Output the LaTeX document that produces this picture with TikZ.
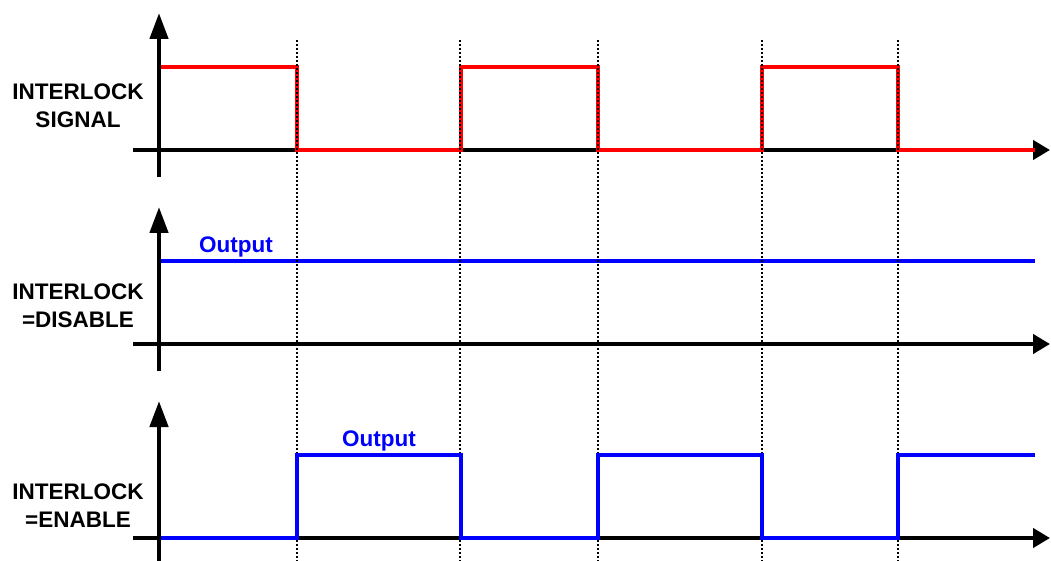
\documentclass[tikz,border=0pt]{standalone}
\usepackage{fontspec}
\setmainfont{Liberation Sans}
\usetikzlibrary{arrows.meta}

\begin{document}
\begin{tikzpicture}[
  x=1pt,y=-1pt,
  font=\bfseries\fontsize{22.5}{28}\selectfont,
  axis/.style={black, line width=4.5pt, -{Triangle[length=17pt,width=19pt]}},
  vaxis/.style={black, line width=4.5pt, -{Triangle[length=26pt,width=18pt]}},
  sigline/.style={red, line width=4.5pt},
  outline/.style={blue, line width=4.5pt},
  guide/.style={black, line width=1.2pt, dash pattern=on 2pt off 2pt},
  lbl/.style={align=center, inner sep=0pt},
  outlbl/.style={blue, anchor=base, inner sep=0pt}
]
\useasboundingbox (0,0) rectangle (1051,561);

% ----------------------------- Axes -----------------------------
\foreach \yb in {150,344,538}
  {
    \draw[axis] (133,\yb) -- (1050,\yb);
    \draw[vaxis] (159,\yb+27) -- (159,\yb-137);
  }

% --------------------- Panel 1: interlock signal ---------------------
\begin{scope}[shift={(0,150)}]
  \draw[sigline]
    (161,-83) -- (297,-83) -- (297,0) -- (461,0) -- (461,-83) -- (598,-83)
    -- (598,0) -- (762,0) -- (762,-83) -- (898,-83) -- (898,0) -- (1035,0);
\end{scope}
\node[lbl] (lblsig) at (78,106) {INTERLOCK\\SIGNAL};

% --------------------- Panel 2: interlock disabled ---------------------
\begin{scope}[shift={(0,344)}]
  \draw[outline] (161,-83) -- (1035,-83);
\end{scope}
\node[lbl] (lbldis) at (78,306) {INTERLOCK\\=DISABLE};
\node[outlbl] (outdis) at (236,252) {Output};

% Time marks.
\foreach \x in {297,460,598,762,898}
  \draw[guide] (\x,40) -- (\x,561);

% --------------------- Panel 3: interlock enabled ---------------------
\begin{scope}[shift={(0,538)}]
  \draw[outline]
    (161,0) -- (297,0) -- (297,-83) -- (461,-83) -- (461,0) -- (598,0)
    -- (598,-83) -- (762,-83) -- (762,0) -- (898,0) -- (898,-83) -- (1035,-83);
\end{scope}
\node[lbl] (lblena) at (78,506) {INTERLOCK\\=ENABLE};
\node[outlbl] (outena) at (379,446) {Output};

\end{tikzpicture}
\end{document}
